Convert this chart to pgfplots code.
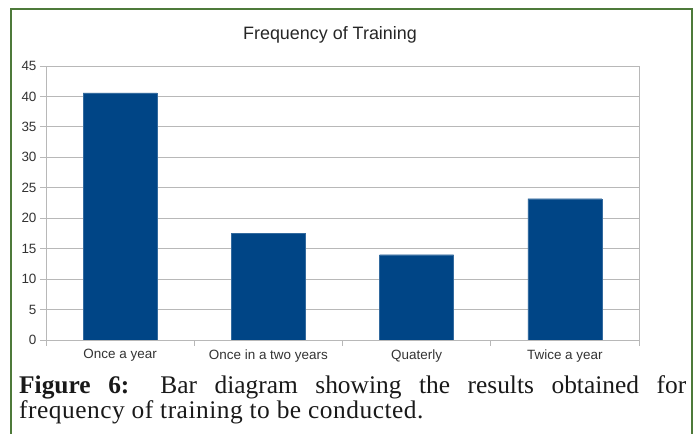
\documentclass[border=0pt]{standalone}
\usepackage{fontspec}
\setmainfont{Liberation Serif}
\newfontfamily\arial{Liberation Sans}
\usepackage{pgfplots}
\pgfplotsset{compat=1.18}
\definecolor{barblue}{HTML}{004586}
\definecolor{framegreen}{HTML}{4E7A3A}
\definecolor{gridgray}{HTML}{B8B8B8}
\begin{document}
\begin{tikzpicture}[x=1bp,y=1bp]
\useasboundingbox (0,0) rectangle (700,434);
% green frame (bottom edge is cut off in the reference)
\draw[framegreen, line width=2bp] (11,-5) -- (11,425) -- (692,425) -- (692,-5);
\node[font=\arial\fontsize{18}{21}\selectfont, text=black!85] at (330,399) {Frequency of Training};
\begin{axis}[
  at={(46bp,94bp)}, anchor=south west,
  scale only axis, width=593bp, height=274bp,
  xmin=-0.5, xmax=3.5, ymin=0, ymax=45,
  ytick={0,5,...,45},
  xtick={0,1,2,3},
  xticklabels={Once a year, Once in a two years, Quaterly, Twice a year},
  minor xtick={-0.5,0.5,1.5,2.5,3.5},
  major x tick style={draw=none},
  tick align=outside, tick pos=left,
  major tick length=6bp, minor tick length=6bp,
  ymajorgrids, grid style={gridgray, line width=0.8bp},
  axis line style={gridgray, line width=0.8bp},
  tick style={gridgray, line width=0.8bp},
  ticklabel style={font=\arial\fontsize{13.5}{15}\selectfont, text=black!80},
  /pgf/number format/assume math mode=true,
  ybar, bar width=74bp,
]
\addplot[fill=barblue, draw=barblue!80] coordinates {(0,40.6) (1,17.5) (2,14) (3,23.2)};
\end{axis}
\node[anchor=base west, inner sep=0, text=black!90, font=\fontsize{25.5}{25}\selectfont] at (19,40)
  {\hbox to 667bp{\textbf{Figure} \textbf{6:} Bar diagram showing the results obtained for}};
\node[anchor=base west, inner sep=0, text=black!90, font=\fontsize{25.5}{25}\selectfont\addfontfeatures{LetterSpace=2}] at (19,15)
  {frequency of training to be conducted.};
\end{tikzpicture}
\end{document}
